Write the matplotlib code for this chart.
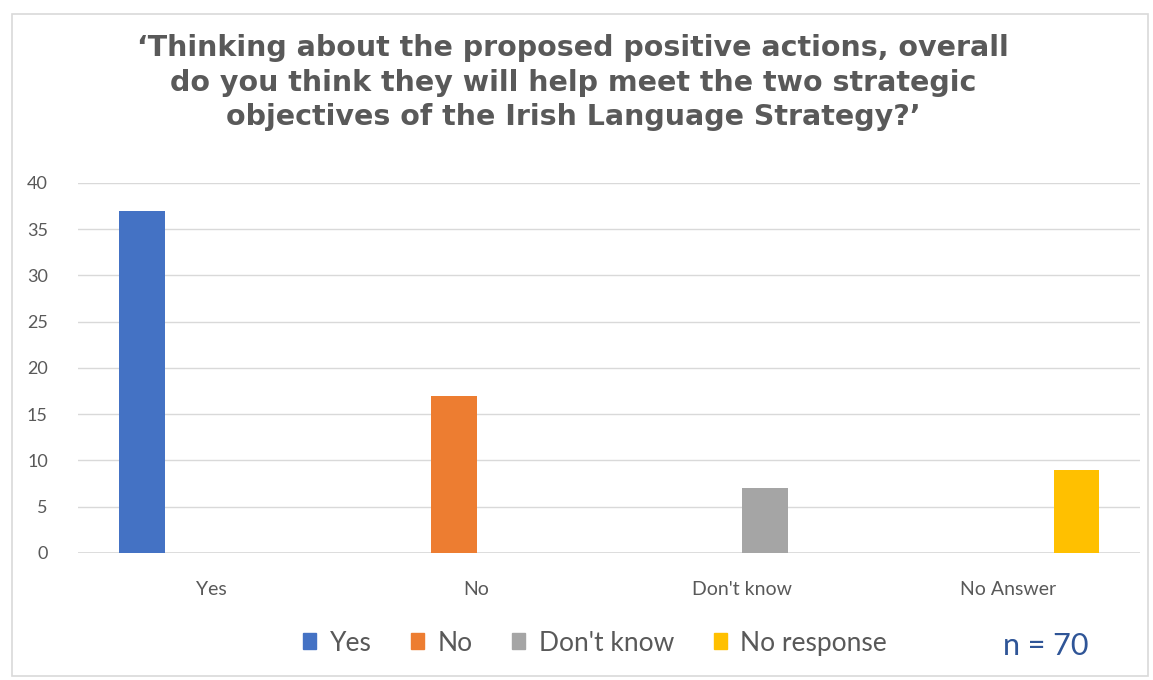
import matplotlib.pyplot as plt
import numpy as np
from matplotlib.patches import Rectangle, Patch

# Survey answers: each response series only has a count in its own category
categories = ["Yes", "No", "Don't know", "No Answer"]
series_names = ["Yes", "No", "Don't know", "No response"]
yes_vals = [37, 0, 0, 0]
no_vals = [0, 17, 0, 0]
dont_know_vals = [0, 0, 7, 0]
no_response_vals = [0, 0, 0, 9]
n_total = 70

colors = ["#4472C4", "#ED7D31", "#A5A5A5", "#FFC000"]
text_grey = "#595959"

fig = plt.figure(figsize=(11.53, 6.80), dpi=100)
ax = fig.add_axes([0.068, 0.187, 0.921, 0.544])

x = np.arange(len(categories))
w = 0.173
all_series = [yes_vals, no_vals, dont_know_vals, no_response_vals]
for i, (vals, name, c) in enumerate(zip(all_series, series_names, colors)):
    ax.bar(x + (i - 1.5) * w, vals, width=w, color=c, label=name, zorder=3)

ax.set_xlim(-0.5, len(categories) - 0.5)
ax.set_ylim(0, 40)
ax.set_yticks(range(0, 41, 5))
ax.yaxis.grid(True, color="#d9d9d9", linewidth=1, zorder=0)
for s in ax.spines.values():
    s.set_visible(False)
ax.axhline(0, color="#d9d9d9", linewidth=1.2, zorder=1)
ax.tick_params(length=0, labelcolor=text_grey)
ax.tick_params(axis="y", pad=22, labelsize=13)
ax.tick_params(axis="x", pad=20, labelsize=14)
ax.set_xticks(x)
ax.set_xticklabels(categories)
for lbl in ax.get_xticklabels() + ax.get_yticklabels():
    lbl.set_family("Lato")

fig.text(0.497, 0.95,
         "\u2018Thinking about the proposed positive actions, overall\n"
         "do you think they will help meet the two strategic\n"
         "objectives of the Irish Language Strategy?\u2019",
         ha="center", va="top", fontsize=20.5, fontweight="bold",
         color=text_grey, linespacing=1.3)

handles = [Patch(color=c) for c in colors]
fig.legend(handles, series_names, loc="center", ncol=4,
           bbox_to_anchor=(0.516, 0.054), frameon=False,
           prop={"family": "Lato", "size": 19}, labelcolor=text_grey,
           handlelength=0.5, handleheight=0.55, handletextpad=0.5,
           columnspacing=1.5)

fig.text(0.907, 0.05, f"n = {n_total}", ha="center", va="center",
         fontsize=22, color="#2F5597", family="Lato")

# light frame around the chart area
fig.add_artist(Rectangle((12 / 1153, 4 / 680), 1136 / 1153, 662 / 680,
                         transform=fig.transFigure, fill=False,
                         edgecolor="#d9d9d9", linewidth=1.2))

fig.savefig("out.png", dpi=100)
